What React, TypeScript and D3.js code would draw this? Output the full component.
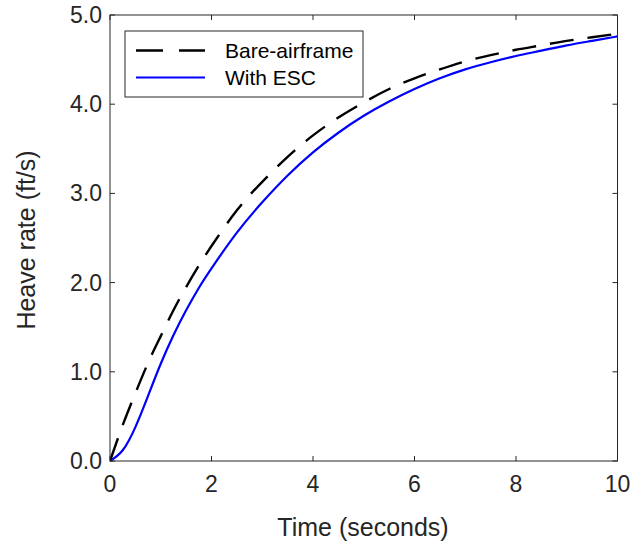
import React from "react";
import * as d3 from "d3";

const timePoints = [0, 0.25, 0.5, 0.75, 1, 1.25, 1.5, 1.75, 2, 2.5, 3, 3.5, 4, 4.5, 5, 5.5, 6, 6.5, 7, 7.5, 8, 8.5, 9, 9.5, 10];
const bareAirframe = [0, 0.4, 0.76, 1.1, 1.4, 1.69, 1.95, 2.19, 2.41, 2.81, 3.13, 3.41, 3.65, 3.85, 4.02, 4.17, 4.29, 4.39, 4.48, 4.55, 4.61, 4.66, 4.71, 4.75, 4.79];
const withESC = [0, 0.12, 0.38, 0.73, 1.09, 1.41, 1.69, 1.94, 2.16, 2.56, 2.9, 3.2, 3.46, 3.68, 3.87, 4.03, 4.17, 4.29, 4.39, 4.47, 4.54, 4.6, 4.66, 4.71, 4.76];
const xTicks = [0, 2, 4, 6, 8, 10];
const yTicks = [0, 1, 2, 3, 4, 5];
const seriesNames = ["Bare-airframe", "With ESC"];

const W = 644, H = 548;
const L = 110, R = 617.5, T = 15, B = 461;
const FONT = "'Liberation Sans', Arial, Helvetica, sans-serif";
const TXT = "#262626";

export default function App() {
  const x = d3.scaleLinear().domain([0, 10]).range([L, R]);
  const y = d3.scaleLinear().domain([0, 5]).range([B, T]);
  const line = d3
    .line<[number, number]>()
    .x((d) => x(d[0]))
    .y((d) => y(d[1]))
    .curve(d3.curveNatural);
  const bare = line(timePoints.map((t, i) => [t, bareAirframe[i]]) as [number, number][]) || "";
  const esc = line(timePoints.map((t, i) => [t, withESC[i]]) as [number, number][]) || "";
  const tl = 5;
  return (
    <svg width={W} height={H} style={{ position: "absolute", left: 0, top: 0, background: "#fff" }} fontFamily={FONT}>
      <rect x={0} y={0} width={W} height={H} fill="#fff" />
      <defs>
        <clipPath id="plotclip">
          <rect x={L} y={T - 2} width={R - L + 2} height={B - T + 4} />
        </clipPath>
      </defs>
      <g clipPath="url(#plotclip)">
        <path d={esc} fill="none" stroke="#0000ff" strokeWidth={2.2} />
        <path d={bare} fill="none" stroke="#000" strokeWidth={2.4} strokeDasharray="24,14" />
      </g>
      <rect x={L} y={T} width={R - L} height={B - T} fill="none" stroke={TXT} strokeWidth={1} />
      {xTicks.map((t) => (
        <g key={"x" + t}>
          <line x1={x(t)} x2={x(t)} y1={B} y2={B - tl} stroke={TXT} />
          <line x1={x(t)} x2={x(t)} y1={T} y2={T + tl} stroke={TXT} />
          <text x={x(t)} y={492} textAnchor="middle" fontSize={23} fill={TXT}>
            {t}
          </text>
        </g>
      ))}
      {yTicks.map((v) => (
        <g key={"y" + v}>
          <line x1={L} x2={L + tl} y1={y(v)} y2={y(v)} stroke={TXT} />
          <line x1={R} x2={R - tl} y1={y(v)} y2={y(v)} stroke={TXT} />
          <text x={102} y={y(v)} dy="0.35em" textAnchor="end" fontSize={23} fill={TXT}>
            {v.toFixed(1)}
          </text>
        </g>
      ))}
      <text x={363} y={536} textAnchor="middle" fontSize={25} fill={TXT}>
        Time (seconds)
      </text>
      <text transform={`translate(35,${(T + B) / 2 + 2}) rotate(-90)`} textAnchor="middle" fontSize={25} fill={TXT}>
        Heave rate (ft/s)
      </text>
      <rect x={125} y={31} width={238} height={66} fill="#fff" stroke={TXT} strokeWidth={1} />
      <line x1={136} x2={205} y1={50.5} y2={50.5} stroke="#000" strokeWidth={2.4} strokeDasharray="27,16" />
      <line x1={136} x2={205} y1={77.5} y2={77.5} stroke="#0000ff" strokeWidth={2.2} />
      <text x={225} y={50.5} dy="0.35em" fontSize={21} fill="#000">
        {seriesNames[0]}
      </text>
      <text x={225} y={77.5} dy="0.35em" fontSize={21} fill="#000">
        {seriesNames[1]}
      </text>
    </svg>
  );
}
